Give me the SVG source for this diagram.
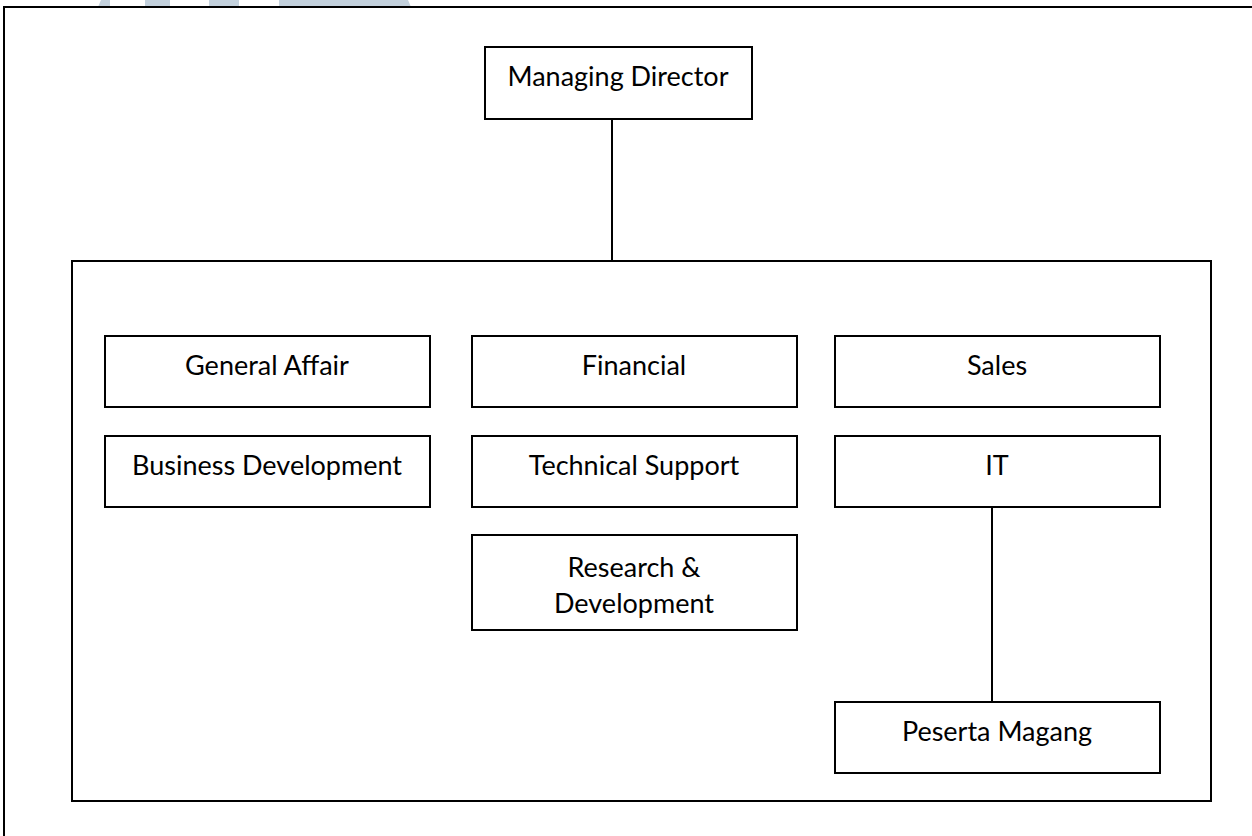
<svg xmlns="http://www.w3.org/2000/svg" width="1252" height="836" viewBox="0 0 1252 836">
<style>
.box{fill:#fff;stroke:#000;stroke-width:2}
.frame{fill:none;stroke:#000;stroke-width:2}
.lbl{font-family:Lato,"Open Sans","Liberation Sans",sans-serif;font-size:27px;fill:#000;text-anchor:middle}
.wm{fill:#c3d1dd}
.conn{stroke:#000;stroke-width:2;fill:none}
</style>
<rect width="1252" height="836" fill="#fff"/>
<g id="watermark">
<polygon class="wm" points="101,0 110,0 110,7 98,7"/>
<rect class="wm" x="145" y="0" width="25" height="7"/>
<rect class="wm" x="209" y="0" width="30" height="7"/>
<polygon class="wm" points="279,0 408,0 411,7 279,7"/>
</g>
<g id="frame">
<path class="frame" d="M4,836 V7 H1252"/>
</g>
<g id="container"><rect class="frame" x="72" y="261" width="1139" height="540"/></g>
<g id="connectors">
<line class="conn" x1="612" y1="119" x2="612" y2="261"/>
<line class="conn" x1="992" y1="507" x2="992" y2="702"/>
</g>
<g id="managing-director"><rect class="box" x="485" y="47" width="267" height="72"/><text class="lbl" x="618" y="86">Managing Director</text></g>
<g id="general-affair"><rect class="box" x="105" y="336" width="325" height="71"/><text class="lbl" x="267" y="375">General Affair</text></g>
<g id="financial"><rect class="box" x="472" y="336" width="325" height="71"/><text class="lbl" x="634" y="375">Financial</text></g>
<g id="sales"><rect class="box" x="835" y="336" width="325" height="71"/><text class="lbl" x="997" y="375">Sales</text></g>
<g id="business-development"><rect class="box" x="105" y="436" width="325" height="71"/><text class="lbl" x="267" y="475">Business Development</text></g>
<g id="technical-support"><rect class="box" x="472" y="436" width="325" height="71"/><text class="lbl" x="634" y="475">Technical Support</text></g>
<g id="it"><rect class="box" x="835" y="436" width="325" height="71"/><text class="lbl" x="997" y="475">IT</text></g>
<g id="research-development"><rect class="box" x="472" y="535" width="325" height="95"/><text class="lbl" x="634" y="577">Research &amp;</text><text class="lbl" x="634" y="613">Development</text></g>
<g id="peserta-magang"><rect class="box" x="835" y="702" width="325" height="71"/><text class="lbl" x="997" y="741">Peserta Magang</text></g>
</svg>
